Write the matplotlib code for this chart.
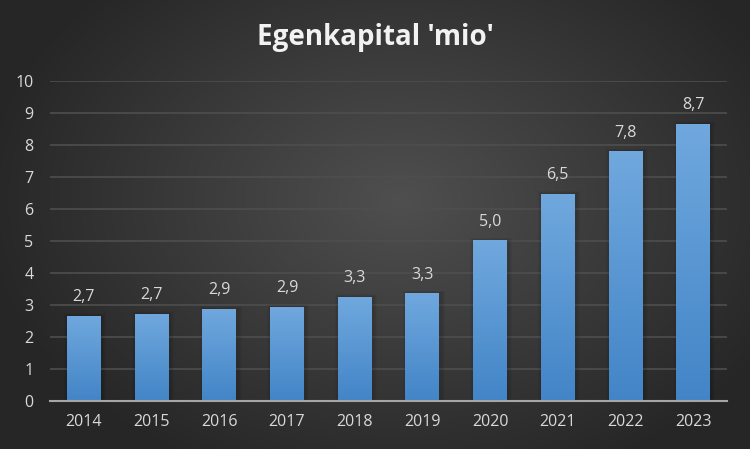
import numpy as np
import matplotlib.pyplot as plt
from matplotlib.patches import Rectangle

years = ['2014', '2015', '2016', '2017', '2018', '2019', '2020', '2021', '2022', '2023']
values = [2.66, 2.72, 2.88, 2.94, 3.25, 3.37, 5.02, 6.47, 7.81, 8.66]
labels = ['2,7', '2,7', '2,9', '2,9', '3,3', '3,3', '5,0', '6,5', '7,8', '8,7']

plt.rcParams['font.family'] = ['Open Sans', 'DejaVu Sans']

fig = plt.figure(figsize=(7.5, 4.49), dpi=100)

# radial background
bg = fig.add_axes([0, 0, 1, 1], zorder=-10)
yy, xx = np.mgrid[0:449, 0:750]
r = np.sqrt(((xx - 400) / 420.0) ** 2 + ((yy - 200) / 300.0) ** 2)
shade = np.clip(0.31 - 0.16 * r, 0.15, 0.31)
bg.imshow(np.dstack([shade, shade, shade]), aspect='auto', extent=[0, 1, 0, 1])
bg.axis('off')

ax = fig.add_axes([50 / 750, 48 / 449, 677 / 750, 320 / 449])
ax.patch.set_alpha(0)
x = np.arange(len(years))
bars = ax.bar(x, values, width=0.5, color='none', zorder=3)

grad = np.linspace(0, 1, 256).reshape(-1, 1)
top = np.array([0.44, 0.66, 0.87])
bot = np.array([0.26, 0.52, 0.78])
cols = bot + (top - bot) * grad[:, :, None]
for b in bars:
    bx, bw, bh = b.get_x(), b.get_width(), b.get_height()
    # soft shadow
    for k in range(1, 5):
        s = Rectangle((bx - 0.015 * k + 0.02, 0), bw + 0.03 * k, bh + 0.02 * k,
                      color='black', alpha=0.035, zorder=2, lw=0)
        ax.add_patch(s)
    im = ax.imshow(cols, extent=[bx, bx + bw, 0, bh], origin='lower',
                   aspect='auto', zorder=3)
    im.set_clip_path(b)

for xi, v, lab in zip(x, values, labels):
    ax.text(xi, v + 0.33, lab, ha='center', va='bottom', color='#d9d9d9', fontsize=11.5)

ax.set_xlim(-0.5, len(years) - 0.5)
ax.set_ylim(0, 10)
ax.set_yticks(range(11))
ax.set_xticks(x)
ax.set_xticklabels(years)
ax.tick_params(colors='#d9d9d9', labelsize=11.5, length=0, pad=9)
ax.tick_params(axis='y', pad=12)
ax.grid(axis='y', color='#4e4e4e', lw=1.2, zorder=0)
for sp in ['top', 'right', 'left']:
    ax.spines[sp].set_visible(False)
ax.spines['bottom'].set_color('#a6a6a6')
ax.spines['bottom'].set_linewidth(1.5)
ax.spines['bottom'].set_zorder(4)

fig.text(0.5, 1 - 38 / 449, "Egenkapital 'mio'", ha='center', va='center',
         color='#f2f2f2', fontsize=20, fontweight='bold')

fig.savefig('out.png', dpi=100)
